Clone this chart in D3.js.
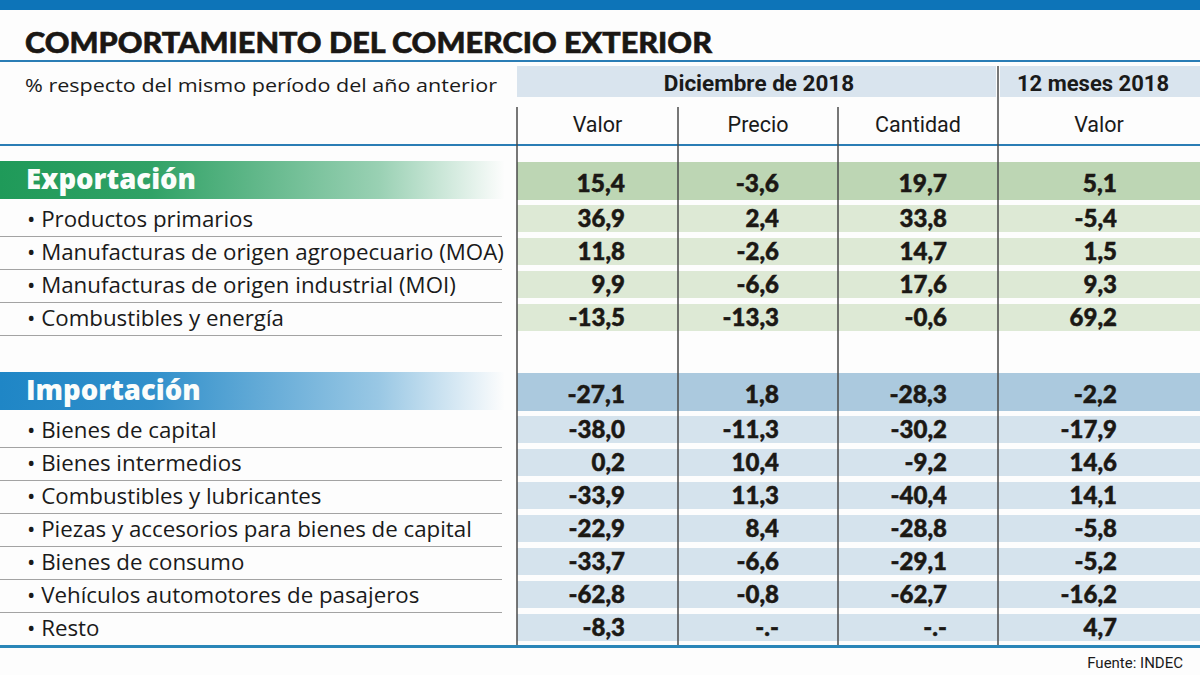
<!DOCTYPE html>
<html><head><meta charset="utf-8">
<script src="https://cdn.jsdelivr.net/npm/d3@7"></script>
<style>
html,body{margin:0;padding:0;background:#fdfdfd;}
svg{display:block;}
</style></head>
<body>
<svg id="chart" width="1200" height="675"></svg>
<script>
// ---------- DATA ----------
const title = "COMPORTAMIENTO DEL COMERCIO EXTERIOR";
const subtitle = "% respecto del mismo período del año anterior";
const source = "Fuente: INDEC";
const periodHeaders = ["Diciembre de 2018", "12 meses 2018"];
const columns = ["Valor", "Precio", "Cantidad", "Valor"];

const exportCategories = ["Exportación", "Productos primarios", "Manufacturas de origen agropecuario (MOA)", "Manufacturas de origen industrial (MOI)", "Combustibles y energía"];
const exportValor = [15.4, 36.9, 11.8, 9.9, -13.5];
const exportPrecio = [-3.6, 2.4, -2.6, -6.6, -13.3];
const exportCantidad = [19.7, 33.8, 14.7, 17.6, -0.6];
const exportValor12 = [5.1, -5.4, 1.5, 9.3, 69.2];

const importCategories = ["Importación", "Bienes de capital", "Bienes intermedios", "Combustibles y lubricantes", "Piezas y accesorios para bienes de capital", "Bienes de consumo", "Vehículos automotores de pasajeros", "Resto"];
const importValor = [-27.1, -38.0, 0.2, -33.9, -22.9, -33.7, -62.8, -8.3];
const importPrecio = [1.8, -11.3, 10.4, 11.3, 8.4, -6.6, -0.8, null];
const importCantidad = [-28.3, -30.2, -9.2, -40.4, -28.8, -29.1, -62.7, null];
const importValor12 = [-2.2, -17.9, 14.6, 14.1, -5.8, -5.2, -16.2, 4.7];

// ---------- LAYOUT ----------
const svg = d3.select("#chart");
const W = 1200;
const colEdges = [517, 678, 838, 998, 1200];
const colAnchor = [625, 779, 947, 1117]; // right-aligned number positions
const fmt = v => v == null ? "-.-" : d3.format(".1f")(v).replace(".", ",").replace("\u2212", "-");

const numFont = "Lato, 'Open Sans', sans-serif";
const labelFont = "'Open Sans', 'Noto Sans', sans-serif";
const headFont = "Roboto, 'Open Sans', sans-serif";

const defs = svg.append("defs");
function grad(id, c) {
  const g = defs.append("linearGradient").attr("id", id).attr("x1", 0).attr("x2", 1).attr("y1", 0).attr("y2", 0);
  g.append("stop").attr("offset", "0%").attr("stop-color", c).attr("stop-opacity", 1);
  g.append("stop").attr("offset", "30%").attr("stop-color", c).attr("stop-opacity", 0.92);
  g.append("stop").attr("offset", "75%").attr("stop-color", c).attr("stop-opacity", 0.45);
  g.append("stop").attr("offset", "100%").attr("stop-color", c).attr("stop-opacity", 0);
}
grad("gGreen", "#1f9a59");
grad("gBlue", "#1f86c6");

svg.append("rect").attr("width", W).attr("height", 675).attr("fill", "#fdfdfd");
// top bar
svg.append("rect").attr("x", 0).attr("y", 0).attr("width", W).attr("height", 10).attr("fill", "#0d74b8");

// title
svg.append("text").attr("x", 25).attr("y", 53).text(title)
  .attr("font-family", numFont).attr("font-weight", 900).attr("font-size", 29)
  .attr("fill", "#1a1714").attr("stroke", "#1a1714").attr("stroke-width", 0.6)
  .attr("textLength", 687).attr("lengthAdjust", "spacingAndGlyphs");
svg.append("line").attr("x1", 0).attr("x2", W).attr("y1", 61).attr("y2", 61).attr("stroke", "#2a7db5").attr("stroke-width", 2);

// subtitle
svg.append("text").attr("x", 25).attr("y", 92).text(subtitle)
  .attr("font-family", labelFont).attr("font-size", 19).attr("fill", "#1a1a1a")
  .attr("textLength", 472).attr("lengthAdjust", "spacingAndGlyphs");

// header bands
svg.append("rect").attr("x", colEdges[0]).attr("y", 66).attr("width", colEdges[3] - colEdges[0] - 2).attr("height", 31).attr("fill", "#d9e4ee");
svg.append("rect").attr("x", colEdges[3] + 2).attr("y", 66).attr("width", colEdges[4] - colEdges[3] - 2).attr("height", 31).attr("fill", "#d9e4ee");
svg.append("text").attr("x", 759).attr("y", 91).attr("text-anchor", "middle")
  .text(periodHeaders[0]).attr("font-family", headFont).attr("font-weight", 700).attr("font-size", 22.5).attr("fill", "#1a1a1a");
svg.append("text").attr("x", 1093).attr("y", 91).attr("text-anchor", "middle")
  .text(periodHeaders[1]).attr("font-family", headFont).attr("font-weight", 700).attr("font-size", 22).attr("fill", "#1a1a1a");

// column headers
svg.selectAll("text.colh").data(columns).join("text").attr("class", "colh")
  .attr("x", (d, i) => i === 3 ? 1099 : (colEdges[i] + colEdges[i + 1]) / 2)
  .attr("y", 132).attr("text-anchor", "middle").text(d => d)
  .attr("font-family", headFont).attr("font-size", 21.5).attr("fill", "#1a1a1a");

svg.append("line").attr("x1", 0).attr("x2", W).attr("y1", 145).attr("y2", 145).attr("stroke", "#2a7db5").attr("stroke-width", 2);

// ---------- SECTIONS ----------
function section(cfg) {
  const g = svg.append("g");
  const cats = cfg.cats;
  const vals = cats.map((c, i) => [cfg.valor[i], cfg.precio[i], cfg.cantidad[i], cfg.valor12[i]]);
  // header row
  g.append("rect").attr("x", 0).attr("y", cfg.headTop).attr("width", 505).attr("height", cfg.headH).attr("fill", `url(#${cfg.grad})`);
  g.append("rect").attr("x", colEdges[0]).attr("y", cfg.headTop + 1).attr("width", W - colEdges[0]).attr("height", cfg.headH).attr("fill", cfg.headFill);
  g.append("text").attr("x", 26).attr("y", cfg.headTop + 28).text(cats[0])
    .attr("font-family", labelFont).attr("font-weight", 800).attr("font-size", 27.5).attr("fill", "#fbfdfb");
  g.selectAll("text.hv").data(vals[0]).join("text").attr("class", "hv")
    .attr("x", (d, i) => colAnchor[i]).attr("y", cfg.headTop + 31).attr("text-anchor", "end")
    .text(fmt).attr("font-family", numFont).attr("font-weight", 900).attr("font-size", 24.5)
    .attr("fill", "#1b1814").attr("stroke", "#1b1814").attr("stroke-width", 0.5);

  // sub rows
  const subs = cats.slice(1);
  const y = d3.scaleBand().domain(subs).range([cfg.rowsTop, cfg.rowsTop + 33 * subs.length]);
  g.selectAll("rect.rb").data(subs).join("rect").attr("class", "rb")
    .attr("x", colEdges[0]).attr("y", d => y(d) + 2).attr("width", W - colEdges[0]).attr("height", y.bandwidth() - 6)
    .attr("fill", cfg.rowFill);
  g.selectAll("line.sep").data(cfg.lastSep ? subs : subs.slice(0, -1)).join("line").attr("class", "sep")
    .attr("x1", 0).attr("x2", 502).attr("y1", d => y(d) + y.bandwidth() + 0.5).attr("y2", d => y(d) + y.bandwidth() + 0.5)
    .attr("stroke", "#a3a3a3").attr("stroke-width", 1);
  g.selectAll("text.lab").data(subs).join("text").attr("class", "lab")
    .attr("x", 27).attr("y", d => y(d) + 23.5).text(d => "• " + d)
    .attr("font-family", labelFont).attr("font-size", 22.3).attr("fill", "#1a1a1a");
  subs.forEach((s, r) => {
    g.selectAll(null).data(vals[r + 1]).join("text")
      .attr("x", (d, i) => colAnchor[i]).attr("y", y(s) + 24).attr("text-anchor", "end")
      .text(fmt).attr("font-family", numFont).attr("font-weight", 900).attr("font-size", 24)
      .attr("fill", "#1b1814").attr("stroke", "#1b1814").attr("stroke-width", 0.5);
  });
}

section({cats: exportCategories, valor: exportValor, precio: exportPrecio, cantidad: exportCantidad, valor12: exportValor12,
  headTop: 161, headH: 38, rowsTop: 203, grad: "gGreen", headFill: "#bdd6b4", rowFill: "#dde9d5", lastSep: true});
section({cats: importCategories, valor: importValor, precio: importPrecio, cantidad: importCantidad, valor12: importValor12,
  headTop: 372, headH: 38, rowsTop: 414, grad: "gBlue", headFill: "#abc9de", rowFill: "#d5e3ed", lastSep: false});

// vertical column lines
svg.selectAll("line.vl").data(colEdges.slice(0, 4)).join("line").attr("class", "vl")
  .attr("x1", d => d).attr("x2", d => d)
  .attr("y1", (d, i) => i === 3 ? 66 : 107).attr("y2", 645)
  .attr("stroke", "#4a4a4a").attr("stroke-width", 1.5);

// bottom line
svg.append("line").attr("x1", 0).attr("x2", W).attr("y1", 646.5).attr("y2", 646.5).attr("stroke", "#2a86b8").attr("stroke-width", 3);

svg.append("text").attr("x", 1183).attr("y", 668).attr("text-anchor", "end").text(source)
  .attr("font-family", headFont).attr("font-size", 15).attr("fill", "#1a1a1a");
</script>
</body></html>
